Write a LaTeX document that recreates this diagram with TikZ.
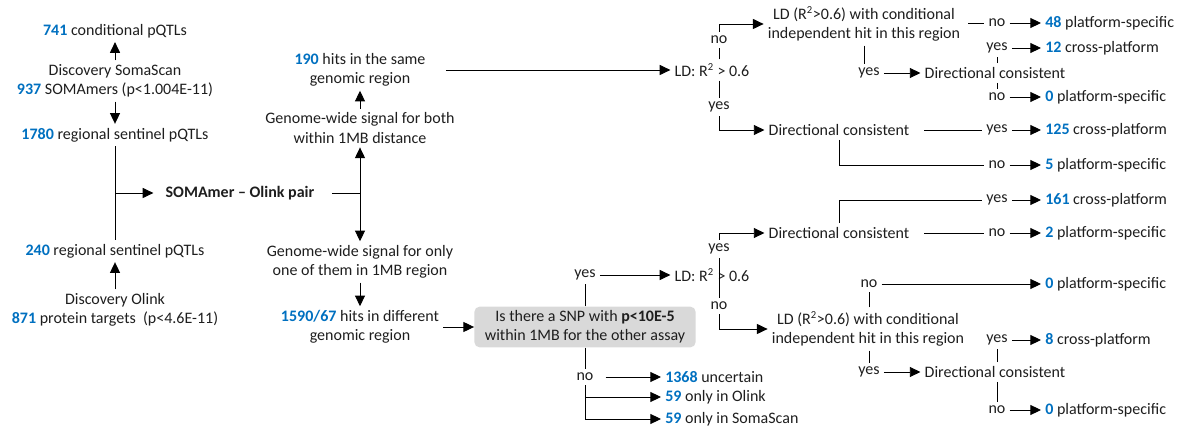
\documentclass[tikz,border=0pt]{standalone}
\usepackage{fontspec}
\setmainfont{Carlito}
\usetikzlibrary{arrows.meta}
\definecolor{numblue}{RGB}{0,112,192}
\definecolor{txtgray}{RGB}{30,30,30}
\definecolor{boxgray}{RGB}{217,217,217}
\newcommand{\nb}[1]{\textcolor{numblue}{\textbf{#1}}}
\begin{document}
\begin{tikzpicture}[x=0.75pt,y=-0.75pt,
  every node/.style={inner sep=3pt,text=txtgray,font=\fontsize{12}{14.3}\selectfont,align=center},
  line/.style={draw=black,line width=0.7pt},
  arr/.style={line,-{Triangle[length=8pt,width=7.5pt]}},
  askbox/.style={fill=boxgray,rounded corners=4pt,minimum width=166pt,minimum height=26pt}]
  \useasboundingbox (0,0) rectangle (1192,434);
  \node (c741) at (115,31) {\nb{741} conditional pQTLs};
  \node (soma) at (115,81) {Discovery SomaScan\\\nb{937} SOMAmers (p<1.004E-11)};
  \node (s1780) at (115,135) {\nb{1780} regional sentinel pQTLs};
  \node (pair) at (240,193) {\textbf{SOMAmer – Olink pair}};
  \node (s240) at (115,251) {\nb{240} regional sentinel pQTLs};
  \node (olink) at (115,310) {Discovery Olink\\\nb{871} protein targets~~(p<4.6E-11)};
  \draw[arr] (soma) -- (c741);
  \draw[arr] (soma) -- (s1780);
  \draw[line] (s1780) -- (s240);
  \draw[arr] (olink) -- (s240);
  \draw[arr,shorten >=6pt] (s1780 |- pair) -- (pair);

  \node (same) at (360,70) {\nb{190} hits in the same\\genomic region};
  \node (both) at (360,128) {Genome-wide signal for both\\within 1MB distance};
  \coordinate (fork) at (360,193);
  \node (only) at (360,262) {Genome-wide signal for only\\one of them in 1MB region};
  \node (diff) at (360,327) {\nb{1590/67} hits in different\\genomic region};
  \node[askbox] (snp) at (585,327) {Is there a SNP with \textbf{p<10E-5}\\within 1MB for the other assay};
  \draw[line,shorten <=10pt] (pair) -- (fork);
  \draw[arr] (fork) -- (both);
  \draw[arr] (fork) -- (only);
  \draw[arr] (both) -- (same);
  \draw[arr] (only) -- (diff);
  \draw[arr] (diff) -- (snp);

  \node (ld1) at (712,70) {LD: R\textsuperscript{2} > 0.6};
  \draw[arr,shorten <=12pt] (same) -- (ld1);
  \node (yes1) at (585,275) {yes};
  \node (no1) at (585,377) {no};
  \draw[line] (snp) -- (yes1);
  \draw[line] (snp) -- (no1);
  \node (ld2) at (712,275) {LD: R\textsuperscript{2} > 0.6};
  \draw[arr] (yes1) -- (ld2);
  \node[anchor=west] (unc) at (661,377) {\nb{1368} uncertain};
  \node[anchor=west] (onlyol) at (661,397) {\nb{59} only in Olink};
  \node[anchor=west] (onlysc) at (661,419) {\nb{59} only in SomaScan};
  \draw[arr,shorten <=6pt] (no1) -- (unc);
  \draw[arr] (no1.south) |- (onlyol);
  \draw[arr] (no1.south) |- (onlysc);

  \node (no2) at (719,40) {no};
  \node (yes2) at (719,107) {yes};
  \node (ldc1) at (864,24) {LD (R\textsuperscript{2}>0.6) with conditional\\independent hit in this region};
  \node (dc1) at (839,130) {Directional consistent};
  \draw[line] (ld1.north -| no2) -- (no2);
  \draw[arr] (no2) |- (ldc1);
  \draw[line] (ld1.south -| yes2) -- (yes2);
  \draw[arr] (yes2) |- (dc1);
  \node (no3) at (997,23) {no};
  \node[anchor=west] (r48) at (1041,23) {\nb{48} platform-specific};
  \draw[line,shorten <=3pt] (ldc1.east |- no3) -- (no3);
  \draw[arr] (no3) -- (r48);
  \node (yes3) at (869,73) {yes};
  \node (dc2) at (995,73) {Directional consistent};
  \draw[line] (ldc1.south) -- (ldc1.south |- yes3.north);
  \draw[arr] (yes3) -- (dc2);
  \node (yes4) at (997,48) {yes};
  \node (no4) at (997,97) {no};
  \node[anchor=west] (r12) at (1041,48) {\nb{12} cross-platform};
  \node[anchor=west] (r0a) at (1041,97) {\nb{0} platform-specific};
  \draw[line] (dc2.north -| yes4) -- (yes4);
  \draw[line] (dc2.south -| no4) -- (no4);
  \draw[arr] (yes4) -- (r12);
  \draw[arr] (no4) -- (r0a);
  \node (yes5) at (997,130) {yes};
  \node (no5) at (997,165) {no};
  \node[anchor=west] (r125) at (1041,130) {\nb{125} cross-platform};
  \node[anchor=west] (r5) at (1041,165) {\nb{5} platform-specific};
  \draw[line,shorten <=8pt] (dc1) -- (yes5);
  \draw[arr] (yes5) -- (r125);
  \draw[line] (dc1.south) |- (no5);
  \draw[arr] (no5) -- (r5);

  \node (dc3) at (839,233) {Directional consistent};
  \node (yes6) at (997,200) {yes};
  \node (no6) at (997,233) {no};
  \node[anchor=west] (r161) at (1041,200) {\nb{161} cross-platform};
  \node[anchor=west] (r2) at (1041,233) {\nb{2} platform-specific};
  \draw[line] (dc3.north) |- (yes6);
  \draw[arr] (yes6) -- (r161);
  \draw[line,shorten <=8pt] (dc3) -- (no6);
  \draw[arr] (no6) -- (r2);
  \node (yes7) at (719,249) {yes};
  \node (no7) at (719,306) {no};
  \node (ldc2) at (868,329) {LD (R\textsuperscript{2}>0.6) with conditional\\independent hit in this region};
  \draw[line] (yes7) -- (no7);
  \draw[arr] (yes7) |- (dc3);
  \draw[arr] (no7) |- (ldc2);
  \node (no8) at (869,284) {no};
  \node[anchor=west] (r0b) at (1041,284) {\nb{0} platform-specific};
  \draw[line] (ldc2.north -| no8) -- (no8);
  \draw[arr] (no8) -- (r0b);
  \node (yes8) at (869,372) {yes};
  \node (dc4) at (995,372) {Directional consistent};
  \draw[line] (ldc2.south -| yes8) -- (yes8);
  \draw[arr] (yes8) -- (dc4);
  \node (yes9) at (997,340) {yes};
  \node (no9) at (997,410) {no};
  \node[anchor=west] (r8) at (1041,340) {\nb{8} cross-platform};
  \node[anchor=west] (r0c) at (1041,410) {\nb{0} platform-specific};
  \draw[line] (dc4.north -| yes9) -- (yes9);
  \draw[arr] (yes9) -- (r8);
  \draw[line] (dc4.south -| no9) -- (no9);
  \draw[arr] (no9) -- (r0c);
\end{tikzpicture}
\end{document}
